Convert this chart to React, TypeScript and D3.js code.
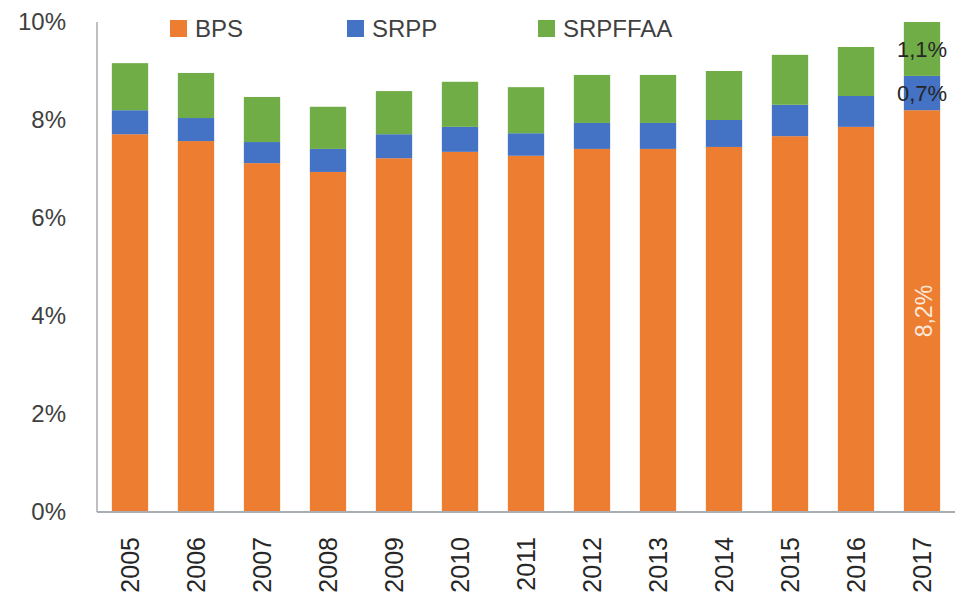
import React from "react";
import * as d3 from "d3";

const years = ["2005","2006","2007","2008","2009","2010","2011","2012","2013","2014","2015","2016","2017"];
const bps = [7.71, 7.57, 7.12, 6.94, 7.22, 7.35, 7.27, 7.41, 7.41, 7.45, 7.67, 7.86, 8.2];
const srpp = [0.49, 0.47, 0.43, 0.47, 0.49, 0.51, 0.46, 0.53, 0.53, 0.55, 0.64, 0.63, 0.7];
const srpffaa = [0.96, 0.92, 0.92, 0.86, 0.88, 0.92, 0.94, 0.98, 0.98, 1.0, 1.02, 1.0, 1.1];
const yTicks = [0, 2, 4, 6, 8, 10];
const seriesNames = ["BPS", "SRPP", "SRPFFAA"];
const colors = ["#ED7D31", "#4472C4", "#70AD47"];
const lastLabels = ["8,2%", "0,7%", "1,1%"];

const W = 959, H = 601;
const FONT = "'Liberation Sans', Arial, sans-serif";

export default function App() {
  const x = d3.scaleBand<string>().domain(years).range([97, 955]).paddingInner(0.45).paddingOuter(0.225);
  const y = d3.scaleLinear().domain([0, 10]).range([512, 22]);
  const rows = years.map((yr, i) => ({ year: yr, BPS: bps[i], SRPP: srpp[i], SRPFFAA: srpffaa[i] }));
  const stack = d3.stack<any>().keys(seriesNames)(rows);
  const last = years.length - 1;
  const lx = (x(years[last]) as number) + x.bandwidth() / 2;
  const legendX = [170, 347, 538];

  return (
    <svg width={W} height={H} style={{ position: "absolute", left: 0, top: 0, background: "#fff" }} fontFamily={FONT}>
      {stack.map((s, si) => (
        <g key={s.key} fill={colors[si]}>
          {s.map((d, i) => (
            <rect key={i} x={x(years[i])} width={x.bandwidth()} y={y(d[1])} height={y(d[0]) - y(d[1])} />
          ))}
        </g>
      ))}
      <line x1={97} x2={97} y1={22} y2={512} stroke="#BFBFBF" strokeWidth={2} />
      <line x1={97} x2={955} y1={512} y2={512} stroke="#A9AEB5" strokeWidth={2} />
      {yTicks.map(t => (
        <text key={t} x={66} y={y(t)} dy="0.35em" textAnchor="end" fontSize={24} fill="#404040">{t}%</text>
      ))}
      {years.map(yr => (
        <text key={yr} transform={`translate(${(x(yr) as number) + x.bandwidth() / 2},537) rotate(-90)`} dy="0.35em" textAnchor="end" fontSize={25} fill="#262626">{yr}</text>
      ))}
      {seriesNames.map((n, i) => (
        <g key={n}>
          <rect x={legendX[i]} y={20} width={17} height={17} fill={colors[i]} />
          <text x={legendX[i] + 25} y={28.5} dy="0.35em" fontSize={24} fill="#404040">{n}</text>
        </g>
      ))}
      <text transform={`translate(${lx + 2},${(y(stack[0][last][0]) + y(stack[0][last][1])) / 2}) rotate(-90)`} dy="0.35em" textAnchor="middle" fontSize={23} fill="#FCE9DA">{lastLabels[0]}</text>
      <text x={lx} y={(y(stack[1][last][0]) + y(stack[1][last][1])) / 2} dy="0.35em" textAnchor="middle" fontSize={22} fill="#262626">{lastLabels[1]}</text>
      <text x={lx} y={(y(stack[2][last][0]) + y(stack[2][last][1])) / 2} dy="0.35em" textAnchor="middle" fontSize={22} fill="#262626">{lastLabels[2]}</text>
    </svg>
  );
}
